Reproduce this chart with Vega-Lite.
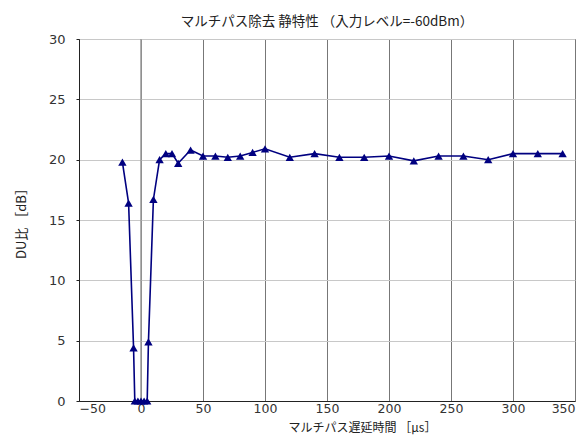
{
  "$schema": "https://vega.github.io/schema/vega-lite/v6.json",
  "width": 496,
  "height": 362,
  "autosize": {"type": "none"},
  "padding": {"left": 79, "top": 39, "right": 13, "bottom": 35},
  "background": "white",
  "title": {
    "text": "マルチパス除去 静特性 （入力レベル=-60dBm）",
    "font": "Noto Sans CJK JP",
    "fontSize": 13.5,
    "fontWeight": "normal",
    "color": "#222",
    "anchor": "middle",
    "offset": 5
  },
  "config": {
    "font": "Noto Sans CJK JP",
    "view": {"stroke": "#222", "strokeWidth": 1}
  },
  "data": {
    "values": [
      {"delay": -15, "du": 19.8},
      {"delay": -10, "du": 16.4},
      {"delay": -6, "du": 4.4},
      {"delay": -5, "du": 0},
      {"delay": -2.5, "du": 0},
      {"delay": 0, "du": 0},
      {"delay": 2.5, "du": 0},
      {"delay": 5, "du": 0},
      {"delay": 6, "du": 4.9},
      {"delay": 10, "du": 16.7},
      {"delay": 15, "du": 20.0},
      {"delay": 20, "du": 20.5},
      {"delay": 25, "du": 20.5},
      {"delay": 30, "du": 19.7},
      {"delay": 40, "du": 20.8},
      {"delay": 50, "du": 20.3},
      {"delay": 60, "du": 20.3},
      {"delay": 70, "du": 20.2},
      {"delay": 80, "du": 20.3},
      {"delay": 90, "du": 20.6},
      {"delay": 100, "du": 20.9},
      {"delay": 120, "du": 20.2},
      {"delay": 140, "du": 20.5},
      {"delay": 160, "du": 20.2},
      {"delay": 180, "du": 20.2},
      {"delay": 200, "du": 20.3},
      {"delay": 220, "du": 19.9},
      {"delay": 240, "du": 20.3},
      {"delay": 260, "du": 20.3},
      {"delay": 280, "du": 20.0},
      {"delay": 300, "du": 20.5},
      {"delay": 320, "du": 20.5},
      {"delay": 340, "du": 20.5}
    ]
  },
  "layer": [
    {
      "mark": {"type": "rule", "stroke": "#999", "strokeWidth": 1.5},
      "data": {"values": [{"zero": 0}]},
      "encoding": {
        "x": {"field": "zero", "type": "quantitative", "scale": {"domain": [-50, 350]}}
      }
    },
    {
      "mark": {"type": "line", "color": "#000080", "strokeWidth": 1.6},
      "encoding": {
        "x": {
          "field": "delay",
          "type": "quantitative",
          "scale": {"domain": [-50, 350], "nice": false, "zero": false},
          "axis": {
            "values": [-50, 0, 50, 100, 150, 200, 250, 300, 350],
            "title": "マルチパス遅延時間 ［μs］",
            "titleFont": "Noto Sans CJK JP",
            "titleFontSize": 12,
            "titleFontWeight": "normal",
            "titleColor": "#222",
            "titleBaseline": "top",
            "titleX": 283,
            "titleY": 21,
            "labelFont": "DejaVu Sans",
            "labelFontSize": 12.5,
            "labelColor": "#333",
            "labelPadding": 1,
            "tickSize": 0,
            "domainColor": "#222",
            "grid": true,
            "gridColor": "#777",
            "gridWidth": 1
          }
        },
        "y": {
          "field": "du",
          "type": "quantitative",
          "scale": {"domain": [0, 30], "nice": false},
          "axis": {
            "values": [0, 5, 10, 15, 20, 25, 30],
            "title": "DU比 ［dB］",
            "titleFont": "Noto Sans CJK JP",
            "titleFontSize": 13,
            "titleFontWeight": "normal",
            "titleColor": "#222",
            "titlePadding": 20,
            "labelFont": "DejaVu Sans",
            "labelFontSize": 13,
            "labelColor": "#333",
            "labelPadding": 11,
            "tickSize": 3,
            "tickColor": "#222",
            "domainColor": "#222",
            "grid": true,
            "gridColor": "#c8c8c8",
            "gridWidth": 1
          }
        }
      }
    },
    {
      "mark": {"type": "point", "shape": "triangle-up", "filled": true, "color": "#000080", "size": 70, "opacity": 1},
      "encoding": {
        "x": {"field": "delay", "type": "quantitative"},
        "y": {"field": "du", "type": "quantitative"}
      }
    }
  ]
}
